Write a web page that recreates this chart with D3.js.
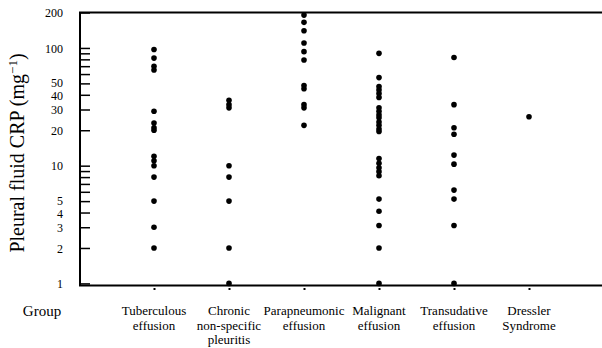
<!DOCTYPE html>
<html>
<head>
<meta charset="utf-8">
<script src="https://cdn.jsdelivr.net/npm/d3@7"></script>
<style>
  body { margin: 0; background: #fff; }
  svg text { font-family: "Liberation Serif", "Times New Roman", "DejaVu Serif", serif; }
</style>
</head>
<body>
<svg id="chart" width="602" height="348"></svg>
<script>
// groups (labels split on "|")
const categories = [
  "Tuberculous|effusion",
  "Chronic|non-specific|pleuritis",
  "Parapneumonic|effusion",
  "Malignant|effusion",
  "Transudative|effusion",
  "Dressler|Syndrome"
];

// CRP values per group
const tuberculous = [97, 82, 70, 65, 29, 23, 21, 20, 12, 11, 10, 8, 5, 3, 2];
const chronic = [36, 33, 31, 10, 8, 5, 2, 1];
const parapneumonic = [190, 165, 140, 110, 93, 79, 48, 45, 33, 31, 22];
const malignant = [90, 56, 47, 44, 41, 38, 31, 29, 27, 25.5, 23.5, 22, 20.5, 19.5,
  11.5, 10.5, 9.6, 8.9, 8.2, 5.2, 4.1, 3.1, 2, 1];
const transudative = [83, 33, 21, 18.5, 12.3, 10.3, 6.2, 5.2, 3.1, 1];
const dressler = [26];

const seriesValues = [tuberculous, chronic, parapneumonic, malignant, transudative, dressler];

const tickValues = [1, 2, 3, 4, 5, 6, 7, 8, 9, 10, 20, 30, 40, 50, 60, 70, 80, 90, 100, 200];
const tickLabels = [1, 2, 3, 4, 5, 10, 20, 30, 40, 50, 100, 200];

const W = 602;
const mLeft = 80, mTop = 12.5, mBottom = 285.5;
const serif = "Liberation Serif, Times New Roman, serif";

const svg = d3.select("#chart").attr("font-family", serif);

const y = d3.scaleLog().domain([0.96, 200]).range([mBottom, mTop]);
const x = d3.scalePoint().domain(categories).range([154, 529]);

// frame: left, top and bottom lines (open on the right)
svg.append("path")
  .attr("d", `M${W},${mTop}H${mLeft}V${mBottom}H${W}`)
  .attr("fill", "none")
  .attr("stroke", "#000")
  .attr("stroke-width", 2);

// y axis, ticks pointing inward
const yAxis = svg.append("g")
  .attr("transform", `translate(${mLeft},0)`)
  .call(d3.axisLeft(y)
    .tickValues(tickValues)
    .tickSize(-10)
    .tickPadding(17)
    .tickFormat((d) => (tickLabels.includes(d) ? d : "")));
yAxis.attr("font-family", serif).attr("font-size", 12);
yAxis.select(".domain").remove();
yAxis.selectAll(".tick line").attr("stroke", "#000").attr("stroke-width", 1.5);
// the 50/40 and 5/4 labels sit very close: spread them a pixel
yAxis.selectAll(".tick text")
  .attr("fill", "#000")
  .attr("dy", "0.34em")
  .attr("y", (d) => (d === 50 || d === 5 ? -1 : d === 40 || d === 4 ? 1 : 0));

// x axis: small ticks under the bottom line, multi-line labels
const xAxis = svg.append("g")
  .attr("transform", `translate(0,${mBottom + 2.5})`)
  .call(d3.axisBottom(x).tickSize(2).tickFormat(""));
xAxis.select(".domain").remove();
xAxis.selectAll(".tick line").attr("stroke", "#000").attr("stroke-width", 2);

const labels = svg.append("g")
  .attr("font-family", serif)
  .attr("font-size", 13)
  .attr("text-anchor", "middle");
categories.forEach((c) => {
  const t = labels.append("text").attr("x", x(c)).attr("y", 315);
  c.split("|").forEach((line, i) => {
    t.append("tspan").attr("x", x(c)).attr("dy", i === 0 ? 0 : 14.5).text(line);
  });
});

svg.append("text")
  .attr("x", 42)
  .attr("y", 316)
  .attr("text-anchor", "middle")
  .attr("font-family", serif)
  .attr("font-size", 15)
  .text("Group");

// y axis title
const title = svg.append("text")
  .attr("transform", "translate(24,153) rotate(-90)")
  .attr("text-anchor", "middle")
  .attr("font-family", serif)
  .attr("font-size", 20);
title.append("tspan").text("Pleural fluid CRP (mg");
title.append("tspan").attr("dy", -7).attr("font-size", 13).text("\u22121");
title.append("tspan").attr("dy", 7).text(")");

// points
const points = categories.flatMap((c, i) => seriesValues[i].map((v) => ({ c, v })));
svg.append("g")
  .selectAll("circle")
  .data(points)
  .enter()
  .append("circle")
  .attr("cx", (d) => x(d.c))
  .attr("cy", (d) => y(d.v))
  .attr("r", 2.8)
  .attr("fill", "#000");
</script>
</body>
</html>
